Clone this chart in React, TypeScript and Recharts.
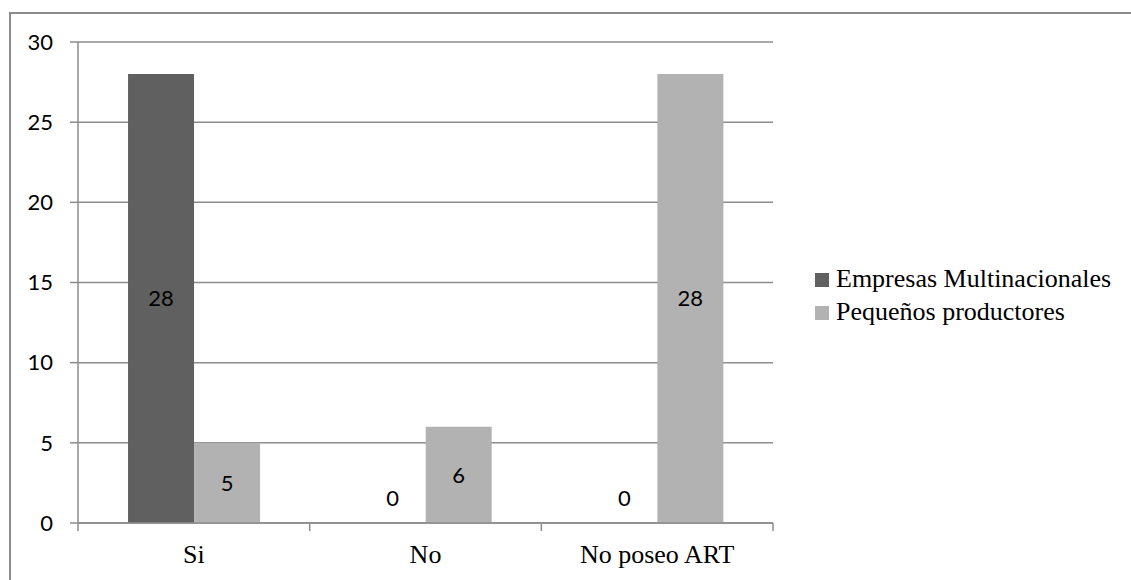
import { Bar, BarChart, CartesianGrid, LabelList, Rectangle, XAxis, YAxis } from 'recharts';

const categories = ['Si', 'No', 'No poseo ART'];
const multinacionales = [28, 0, 0];
const pequenos = [5, 6, 28];
const yTicks = [0, 5, 10, 15, 20, 25, 30];

const chartData = categories.map((name, i) => ({
  name,
  multi: multinacionales[i],
  peq: pequenos[i],
}));

const AXIS = '#8c8c8c';
const SANS = 'Lato, "Open Sans", sans-serif';
const SERIF = '"Liberation Serif", "Times New Roman", serif';
const TICK_GAP = 22;

// value labels sit in the middle of the bar; empty bars get theirs just above the axis
const renderValue = (props: any) => {
  const { x, y, width, height, value } = props;
  const cx = x + width / 2;
  const cy = value === 0 ? y + height - 25 : y + height / 2;
  return (
    <text x={cx} y={cy} dy="0.36em" textAnchor="middle" fill="#000" fontFamily={SANS} fontSize={22}>
      {value}
    </text>
  );
};

// zero values keep a 1px entry so their label is laid out, but no rectangle is painted
const barShape = (props: any) => (props.value === 0 || props.payload?.[props.dataKey] === 0 ? <g /> : <Rectangle {...props} />);

// category label plus tick marks on the category boundaries
const CategoryTick = (props: any) => {
  const { x, y, payload, index } = props;
  const half = payload.offset ?? 0;
  const top = y - TICK_GAP;
  return (
    <g>
      {index === 0 && <line x1={x - half} x2={x - half} y1={top} y2={top + 8} stroke={AXIS} strokeWidth={1.5} />}
      <line x1={x + half} x2={x + half} y1={top} y2={top + 8} stroke={AXIS} strokeWidth={1.5} />
      <text x={x} y={y} dy="0.71em" textAnchor="middle" fill="#000" fontFamily={SERIF} fontSize={26}>
        {payload.value}
      </text>
    </g>
  );
};

const legendItems = [
  { label: 'Empresas Multinacionales', color: '#606060' },
  { label: 'Pequeños productores', color: '#b2b2b2' },
];

export default function App() {
  return (
    <div style={{ position: 'fixed', left: 0, top: 0, width: 1131, height: 580, overflow: 'hidden', background: '#fff' }}>
      <div
        style={{
          position: 'absolute',
          left: 9,
          top: 12,
          width: 1200,
          height: 700,
          borderLeft: `2px solid ${AXIS}`,
          borderTop: `2px solid ${AXIS}`,
        }}
      />
      <BarChart
        width={1131}
        height={580}
        data={chartData}
        margin={{ top: 42, right: 358, bottom: 0, left: 0 }}
        barCategoryGap="21.6%"
        barGap={0}
        style={{ position: 'absolute', left: 0, top: 0 }}
      >
        <CartesianGrid horizontal vertical={false} stroke={AXIS} strokeWidth={1.5} />
        <XAxis
          dataKey="name"
          height={57}
          axisLine={{ stroke: AXIS, strokeWidth: 1.5 }}
          tickLine={false}
          tickSize={0}
          tickMargin={TICK_GAP}
          tick={<CategoryTick />}
        />
        <YAxis
          width={78}
          domain={[0, 30]}
          ticks={yTicks}
          interval={0}
          axisLine={{ stroke: AXIS, strokeWidth: 1.5 }}
          tickLine={{ stroke: AXIS, strokeWidth: 1.5 }}
          tickSize={8}
          tickMargin={17}
          tick={{ fill: '#000', fontFamily: SANS, fontSize: 22 }}
        />
        <Bar dataKey="multi" fill="#606060" minPointSize={1} shape={barShape} isAnimationActive={false}>
          <LabelList dataKey="multi" content={renderValue} />
        </Bar>
        <Bar dataKey="peq" fill="#b2b2b2" minPointSize={1} shape={barShape} isAnimationActive={false}>
          <LabelList dataKey="peq" content={renderValue} />
        </Bar>
      </BarChart>
      <div style={{ position: 'absolute', left: 815, top: 262, fontFamily: SERIF, fontSize: 26, color: '#000' }}>
        {legendItems.map((item) => (
          <div key={item.label} style={{ display: 'flex', alignItems: 'center', height: 33, whiteSpace: 'nowrap' }}>
            <span style={{ width: 14, height: 14, background: item.color, marginRight: 7, marginTop: 2 }} />
            <span>{item.label}</span>
          </div>
        ))}
      </div>
    </div>
  );
}
